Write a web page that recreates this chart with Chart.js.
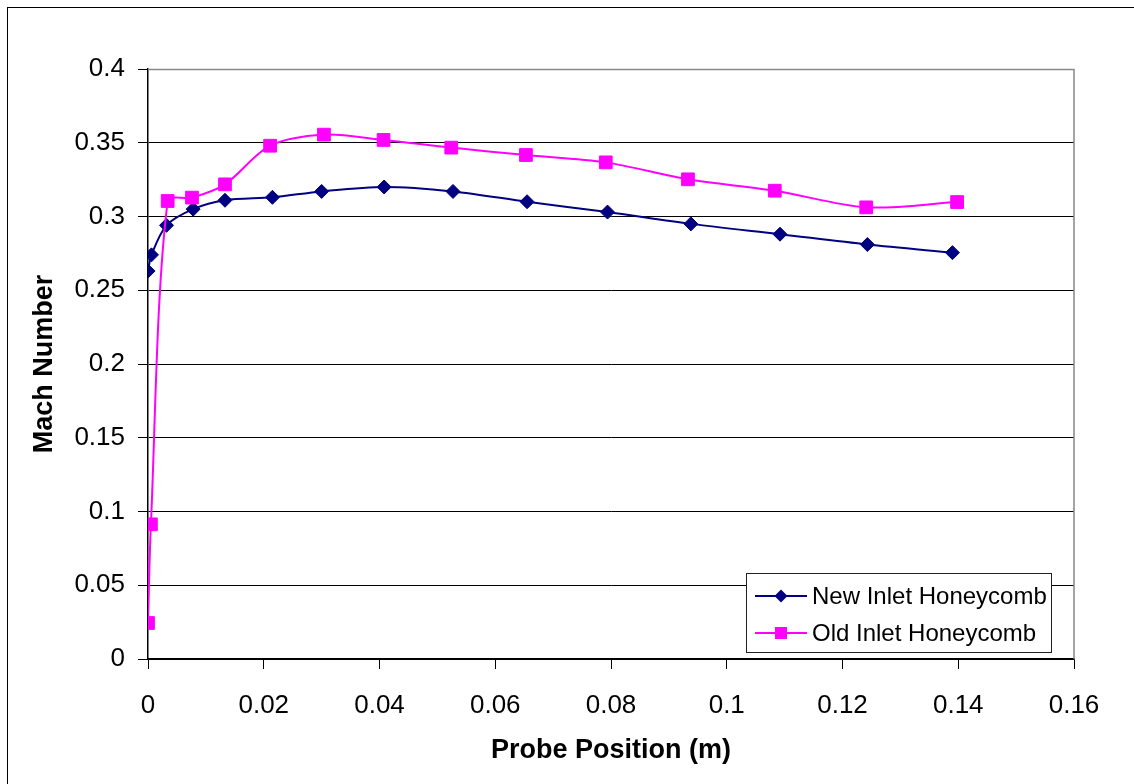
<!DOCTYPE html>
<html>
<head>
<meta charset="utf-8">
<script src="https://cdn.jsdelivr.net/npm/chart.js@4.4.1/dist/chart.umd.min.js"></script>
<style>
  html, body { margin: 0; padding: 0; background: #fff; }
  #wrap { width: 1134px; height: 784px; position: relative; }
</style>
</head>
<body>
<div id="wrap"><canvas id="c" width="1134" height="784"></canvas></div>
<script>
// ---- Data ----
const seriesNames = ['New Inlet Honeycomb', 'Old Inlet Honeycomb'];
const newX = [0, 0.0006, 0.0032, 0.0078, 0.0133, 0.0215, 0.0300, 0.0408, 0.0527, 0.0655, 0.0794, 0.0938, 0.1092, 0.1243, 0.1390];
const newY = [0.263, 0.274, 0.294, 0.305, 0.311, 0.313, 0.317, 0.320, 0.317, 0.310, 0.303, 0.295, 0.288, 0.281, 0.2755];
const oldX = [0, 0.0005, 0.0034, 0.0076, 0.0133, 0.0211, 0.0304, 0.0407, 0.0524, 0.0653, 0.0791, 0.0933, 0.1083, 0.1241, 0.1398];
const oldY = [0.0244, 0.0913, 0.3105, 0.3128, 0.3218, 0.348, 0.3555, 0.3519, 0.3467, 0.3417, 0.3367, 0.3252, 0.3175, 0.3062, 0.3098];
const xTicksMin = 0, xTicksMax = 0.16, xStep = 0.02;
const yTicksMin = 0, yTicksMax = 0.4, yStep = 0.05;
const xTitle = 'Probe Position (m)';
const yTitle = 'Mach Number';

const FONT = '"Liberation Sans", Arial, Helvetica, sans-serif';
const NAVY = '#000080';
const MAGENTA = '#FF00FF';

function pts(xs, ys) { return xs.map((x, i) => ({ x: x, y: ys[i] })); }
function fmt(v) { return String(Number(v.toFixed(4))); }

const frame = {
  id: 'frame',
  beforeDraw(chart) {
    const ctx = chart.ctx;
    ctx.save();
    ctx.fillStyle = '#fff';
    ctx.fillRect(0, 0, chart.width, chart.height);
    ctx.strokeStyle = '#000';
    ctx.lineWidth = 1;
    ctx.strokeRect(7.5, 7.5, 1140, 800);
    ctx.restore();
  },
  beforeDatasetsDraw(chart) {
    const { ctx, chartArea: a } = chart;
    ctx.save();
    ctx.strokeStyle = '#888';
    ctx.lineWidth = 1.5;
    ctx.beginPath();
    ctx.moveTo(a.left, a.top + 0.5);
    ctx.lineTo(a.right, a.top + 0.5);
    ctx.lineTo(a.right, a.bottom);
    ctx.stroke();
    ctx.restore();
  },
  afterDraw(chart) {
    const ctx = chart.ctx;
    const bx = 746.5, by = 573.5, bw = 305, bh = 79;
    ctx.save();
    ctx.fillStyle = '#fff';
    ctx.fillRect(bx, by, bw, bh);
    ctx.strokeStyle = '#222';
    ctx.lineWidth = 1;
    ctx.strokeRect(bx, by, bw, bh);
    const rows = [596, 633];
    chart.data.datasets.forEach((ds, i) => {
      const y = rows[i];
      ctx.strokeStyle = ds.borderColor;
      ctx.lineWidth = 2;
      ctx.beginPath();
      ctx.moveTo(755, y);
      ctx.lineTo(807, y);
      ctx.stroke();
      ctx.fillStyle = ds.backgroundColor;
      ctx.beginPath();
      if (ds.pointStyle === 'rectRot') {
        const r = 6.5;
        ctx.moveTo(781, y - r); ctx.lineTo(781 + r, y); ctx.lineTo(781, y + r); ctx.lineTo(781 - r, y);
        ctx.closePath();
      } else {
        ctx.rect(781 - 6, y - 6, 12, 12);
      }
      ctx.fill();
      ctx.fillStyle = '#000';
      ctx.font = '24px ' + FONT;
      ctx.textBaseline = 'middle';
      ctx.textAlign = 'left';
      ctx.fillText(ds.label, 812, y + 1);
    });
    ctx.restore();
  }
};

new Chart(document.getElementById('c'), {
  type: 'line',
  data: {
    datasets: [
      {
        label: seriesNames[0],
        data: pts(newX, newY),
        borderColor: NAVY,
        backgroundColor: NAVY,
        borderWidth: 2,
        pointStyle: 'rectRot',
        pointRadius: 7,
        pointBorderWidth: 1,
        tension: 0.3,
        order: 2
      },
      {
        label: seriesNames[1],
        data: pts(oldX, oldY),
        borderColor: MAGENTA,
        backgroundColor: MAGENTA,
        borderWidth: 2,
        pointStyle: 'rect',
        pointRadius: 9,
        pointBorderWidth: 1,
        tension: 0.3,
        order: 1
      }
    ]
  },
  options: {
    responsive: false,
    animation: false,
    devicePixelRatio: 1,
    layout: { padding: { left: 0, top: 69, right: 60, bottom: 0 } },
    plugins: { legend: { display: false }, tooltip: { enabled: false } },
    scales: {
      x: {
        type: 'linear',
        min: xTicksMin, max: xTicksMax,
        afterFit(s) { s.height = 125; },
        ticks: { stepSize: xStep, color: '#000', font: { family: FONT, size: 26 }, padding: 21, maxRotation: 0, callback: (v) => fmt(v) },
        grid: { drawOnChartArea: false, drawTicks: true, tickLength: 10, tickColor: '#000', tickWidth: 1 },
        border: { color: '#000', width: 1.5 },
        title: { display: true, text: xTitle, color: '#000', font: { family: FONT, size: 27, weight: 'bold' }, padding: { top: 0, bottom: 17 } }
      },
      y: {
        type: 'linear',
        min: yTicksMin, max: yTicksMax,
        afterFit(s) { s.width = 148; },
        ticks: { stepSize: yStep, color: '#000', font: { family: FONT, size: 26 }, padding: 13, callback: (v) => fmt(v) },
        grid: {
          color: (c) => (c.tick && Math.abs(c.tick.value - yTicksMax) < 1e-9) ? 'rgba(0,0,0,0)' : '#000',
          lineWidth: 1,
          tickLength: 10, tickColor: '#000', tickWidth: 1
        },
        border: { color: '#000', width: 1.5 },
        title: { display: true, text: yTitle, color: '#000', font: { family: FONT, size: 27, weight: 'bold' }, padding: { top: 28, bottom: 0 } }
      }
    }
  },
  plugins: [frame]
});
</script>
</body>
</html>
